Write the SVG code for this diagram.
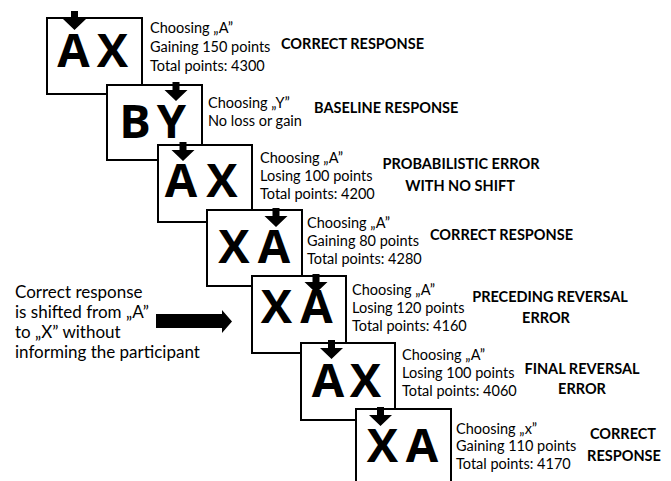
<svg xmlns="http://www.w3.org/2000/svg" width="671" height="481" viewBox="0 0 671 481">
<style>
.box{fill:#fff;stroke:#000;stroke-width:2}
.big{font-family:"Open Sans","DejaVu Sans",sans-serif;font-weight:700;font-size:47px;fill:#000;text-anchor:middle}
.info{font-family:Lato,"Liberation Sans",sans-serif;font-size:14.5px;fill:#000}
.lbl{font-family:Lato,"Liberation Sans",sans-serif;font-weight:700;font-size:14.5px;fill:#000}
.mid{text-anchor:middle}
.side{font-family:Lato,"Liberation Sans",sans-serif;font-size:17px;fill:#000}
</style>
<defs>
<path id="dn" d="M-3.5,-19 H3.5 V-11 H11.5 L0,0 L-11.5,-11 H-3.5 Z" fill="#000"/>
</defs>
<rect width="671" height="481" fill="#fff"/>

<g id="node1">
<rect class="box" x="47" y="18" width="95" height="76"/>
<text class="big" x="73.5" y="67">A</text>
<text class="big" x="112.5" y="67">X</text>
<use href="#dn" x="74.5" y="30"/>
<text class="info" x="150" y="33">Choosing „A”</text>
<text class="info" x="150" y="52">Gaining 150 points</text>
<text class="info" x="150" y="71">Total points: 4300</text>
<text class="lbl" x="281" y="49">CORRECT RESPONSE</text>
</g>

<g id="node2">
<rect class="box" x="107" y="85" width="95" height="75"/>
<text class="big" x="135" y="138">B</text>
<text class="big" x="171.5" y="138">Y</text>
<use href="#dn" x="176" y="101"/>
<text class="info" x="208" y="108">Choosing „Y”</text>
<text class="info" x="208" y="126">No loss or gain</text>
<text class="lbl" x="314" y="113">BASELINE RESPONSE</text>
</g>

<g id="node3">
<rect class="box" x="158" y="145" width="94" height="77"/>
<text class="big" x="181" y="197">A</text>
<text class="big" x="222" y="197">X</text>
<use href="#dn" x="183" y="161"/>
<text class="info" x="260" y="163">Choosing „A”</text>
<text class="info" x="260" y="181">Losing 100 points</text>
<text class="info" x="260" y="199">Total points: 4200</text>
<text class="lbl mid" x="461" y="169">PROBABILISTIC ERROR</text>
<text class="lbl mid" x="460" y="191">WITH NO SHIFT</text>
</g>

<g id="node4">
<rect class="box" x="207" y="210" width="95" height="76"/>
<text class="big" x="234" y="263">X</text>
<text class="big" x="274" y="263">A</text>
<use href="#dn" x="276" y="227"/>
<text class="info" x="307" y="228">Choosing „A”</text>
<text class="info" x="307" y="246">Gaining 80 points</text>
<text class="info" x="307" y="264">Total points: 4280</text>
<text class="lbl" x="430" y="240">CORRECT RESPONSE</text>
</g>

<g id="node5">
<rect class="box" x="252" y="276" width="94" height="77"/>
<text class="big" x="276.5" y="323">X</text>
<text class="big" x="316.5" y="323">A</text>
<use href="#dn" x="316" y="293"/>
<text class="info" x="352" y="295">Choosing „A”</text>
<text class="info" x="352" y="313">Losing 120 points</text>
<text class="info" x="352" y="331">Total points: 4160</text>
<text class="lbl mid" x="550" y="302">PRECEDING REVERSAL</text>
<text class="lbl mid" x="546" y="323">ERROR</text>
</g>

<g id="node6">
<rect class="box" x="301" y="343" width="94" height="77"/>
<text class="big" x="328" y="397">A</text>
<text class="big" x="365.5" y="397">X</text>
<use href="#dn" x="331.5" y="359"/>
<text class="info" x="402" y="360">Choosing „A”</text>
<text class="info" x="402" y="378">Losing 100 points</text>
<text class="info" x="402" y="396">Total points: 4060</text>
<text class="lbl mid" x="582" y="374">FINAL REVERSAL</text>
<text class="lbl mid" x="582" y="394">ERROR</text>
</g>

<g id="node7">
<rect class="box" x="356" y="409" width="95" height="85"/>
<text class="big" x="382.5" y="462">X</text>
<text class="big" x="422" y="462">A</text>
<use href="#dn" x="380.5" y="426"/>
<text class="info" x="456" y="434">Choosing „x”</text>
<text class="info" x="456" y="451">Gaining 110 points</text>
<text class="info" x="456" y="469">Total points: 4170</text>
<text class="lbl mid" x="623" y="439">CORRECT</text>
<text class="lbl mid" x="624" y="461">RESPONSE</text>
</g>

<g id="note">
<text class="side" x="15" y="298">Correct response</text>
<text class="side" x="15" y="318">is shifted from „A”</text>
<text class="side" x="15" y="338">to „X” without</text>
<text class="side" x="15" y="358">informing the participant</text>
</g>

<g id="connectors">
<path d="M156,314 H222 V310 L232,321.5 L222,333 V328 H156 Z" fill="#000"/>
</g>
</svg>
